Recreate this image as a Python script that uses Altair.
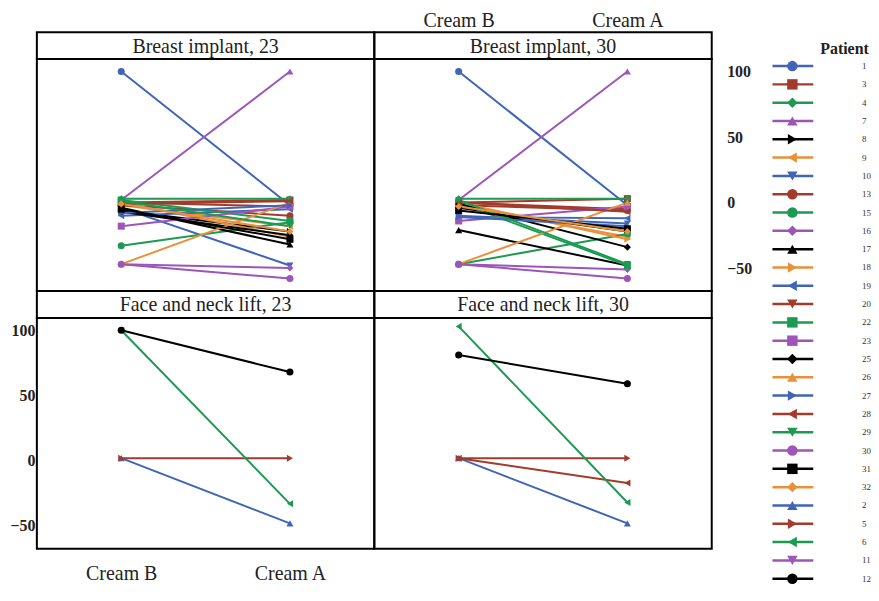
import altair as alt
import pandas as pd

FONT = "Liberation Serif"

# ---------------- data ----------------
patients = [1, 3, 4, 7, 8, 9, 10, 13, 15, 16, 17, 18, 19, 20, 22, 23, 25, 26, 27, 28,
            29, 30, 31, 32, 2, 5, 6, 11, 12]
patient_colors = ["#4065b8", "#a23b2b", "#1d9a52", "#9d55b8", "#000000", "#e8913a"] * 5
patient_shapes = ["circle", "square", "diamond", "triangle-up", "triangle-right", "triangle-left",
                  "triangle-down", "circle", "circle", "diamond", "triangle-up", "triangle-right",
                  "triangle-left", "triangle-down", "square", "square", "diamond", "triangle-up",
                  "triangle-right", "triangle-left", "triangle-down", "circle", "square", "diamond",
                  "triangle-up", "triangle-right", "triangle-left", "triangle-down", "circle"]
creams = ["Cream B", "Cream A"]
panel_titles = ["Breast implant, 23", "Breast implant, 30",
                "Face and neck lift, 23", "Face and neck lift, 30"]

bi23_patients = [1, 3, 4, 7, 8, 9, 10, 13, 15, 16, 17, 18, 19, 20, 22, 23, 25, 26, 27, 28, 29, 30, 31, 32]
bi23_creamB = [100, 0, 3, 2, -6, -2, -4, -2, -33, -47, -4, 0, -10, 0, 2, -18, -7, -47, -8, -1, 1, -47, -5, -1]
bi23_creamA = [-2, 2, 3, 100, -22, -18, -48, -10, -15, -50, -32, -26, -5, -3, -14, -3, -25, 0, -2, 1, -18, -58, -28, -22]

bi30_patients = [1, 3, 4, 7, 8, 9, 10, 13, 15, 16, 17, 18, 19, 20, 22, 23, 25, 26, 27, 28, 29, 30, 31, 32]
bi30_creamB = [100, 0, 3, 2, -4, -2, -10, -2, -47, -47, -21, 0, -11, 0, 0, -14, -1, -47, -11, 0, 2, -47, -6, -3]
bi30_creamA = [-2, 3, 3, 100, -22, -26, -16, -6, -24, -51, -48, -28, -12, -5, -48, -3, -34, 0, -18, -7, -47, -58, -20, -22]

fn23_patients = [2, 5, 6, 12]
fn23_creamB = [2, 2, 100, 100]
fn23_creamA = [-48, 2, -33, 68]

fn30_patients = [2, 5, 28, 6, 12]
fn30_creamB = [2, 2, 2, 103, 81]
fn30_creamA = [-48, 2, -17, -32, 59]


def long_df(pats, b_vals, a_vals):
    rows = []
    for p, b, a in zip(pats, b_vals, a_vals):
        rows.append({"patient": str(p), "cream": creams[0], "value": b})
        rows.append({"patient": str(p), "cream": creams[1], "value": a})
    return pd.DataFrame(rows)


pat_str = [str(p) for p in patients]
color_scale = alt.Scale(domain=pat_str, range=patient_colors)
shape_scale = alt.Scale(domain=pat_str, range=patient_shapes)
x_scale = alt.Scale(domain=creams, type="point", padding=0.5)
y_scale = alt.Scale(domain=[-67.5, 109.5], nice=False, zero=False)
y_ticks = [100, 50, 0, -50]

W = 339
STRIP_H = 27
H_TOP = 233
H_BOT = 232


def y_axis(orient, pad):
    return alt.Axis(orient=orient, values=y_ticks, title=None, ticks=False, domain=False, grid=False,
                    labelFont=FONT, labelFontSize=16, labelFontWeight="bold", labelColor="#222",
                    labelPadding=pad)


def x_axis(orient, pad):
    return alt.Axis(orient=orient, title=None, ticks=False, domain=False, grid=False, labelAngle=0,
                    labelFont=FONT, labelFontSize=20, labelColor="#222", labelPadding=pad)


def panel(df, height, yax=None, xax=None):
    xenc = alt.X("cream:N", sort=creams, scale=x_scale, axis=xax) if xax is not None else \
        alt.X("cream:N", sort=creams, scale=x_scale, axis=None)
    yenc = alt.Y("value:Q", scale=y_scale, axis=yax) if yax is not None else \
        alt.Y("value:Q", scale=y_scale, axis=None)
    base = alt.Chart(df).encode(
        x=xenc, y=yenc,
        color=alt.Color("patient:N", scale=color_scale, legend=None),
        detail="patient:N",
    )
    lines = base.mark_line(strokeWidth=2)
    pts = base.mark_point(filled=True, size=50, opacity=1).encode(
        shape=alt.Shape("patient:N", scale=shape_scale, legend=None))
    return alt.layer(lines, pts).properties(width=W, height=height)


def strip(title, top_axis=False):
    txt = alt.Chart(pd.DataFrame({"t": [title]})).mark_text(
        font=FONT, fontSize=20, color="#222", baseline="middle", align="center"
    ).encode(text="t:N", x=alt.value(W / 2), y=alt.value(STRIP_H / 2 + 1))
    if top_axis:
        ax = alt.Chart(pd.DataFrame({"cream": creams})).mark_point(opacity=0).encode(
            x=alt.X("cream:N", sort=creams, scale=x_scale, axis=x_axis("top", 2)),
            y=alt.value(STRIP_H / 2))
        return alt.layer(ax, txt).properties(width=W, height=STRIP_H)
    return txt.properties(width=W, height=STRIP_H)


df_bi23 = long_df(bi23_patients, bi23_creamB, bi23_creamA)
df_bi30 = long_df(bi30_patients, bi30_creamB, bi30_creamA)
df_fn23 = long_df(fn23_patients, fn23_creamB, fn23_creamA)
df_fn30 = long_df(fn30_patients, fn30_creamB, fn30_creamA)

grid = alt.concat(
    strip(panel_titles[0]), strip(panel_titles[1], top_axis=True),
    panel(df_bi23, H_TOP), panel(df_bi30, H_TOP, yax=y_axis("right", 15)),
    strip(panel_titles[2]), strip(panel_titles[3]),
    panel(df_fn23, H_BOT, yax=y_axis("left", 2), xax=x_axis("bottom", 15)), panel(df_fn30, H_BOT),
    columns=2, spacing=0, bounds="flush",
)

# ---------------- manual legend ----------------
leg_df = pd.DataFrame({"patient": pat_str, "label": pat_str})
leg_y = alt.Y("patient:N", sort=pat_str,
              scale=alt.Scale(type="point", range=[34, 549], padding=0), axis=None)
leg_base = alt.Chart(leg_df).encode(
    y=leg_y, color=alt.Color("patient:N", scale=color_scale, legend=None))
leg_rules = leg_base.mark_rule(strokeWidth=2.5).encode(x=alt.value(9), x2=alt.value(50))
leg_pts = leg_base.mark_point(filled=True, size=110, opacity=1).encode(
    x=alt.value(29), shape=alt.Shape("patient:N", scale=shape_scale, legend=None))
leg_txt = alt.Chart(leg_df).mark_text(font=FONT, fontSize=9, align="left", baseline="middle",
                                      color="#333").encode(
    y=leg_y, x=alt.value(99), text="label:N")
leg_title = alt.Chart(pd.DataFrame({"t": ["Patient"]})).mark_text(
    font=FONT, fontSize=16, fontWeight="bold", align="left", baseline="middle", color="#222"
).encode(text="t:N", x=alt.value(57), y=alt.value(17))
legend = alt.layer(leg_rules, leg_pts, leg_txt, leg_title).properties(
    width=100, height=552, view=alt.ViewBackground(strokeWidth=0))

chart = alt.hconcat(grid, legend, spacing=10).properties(
    padding={"left": 0, "top": 0, "right": 0, "bottom": 0}
).configure(background="white").configure_view(stroke="black", strokeWidth=2)

chart.save("out.html", embed_options={"renderer": "svg", "actions": False})
